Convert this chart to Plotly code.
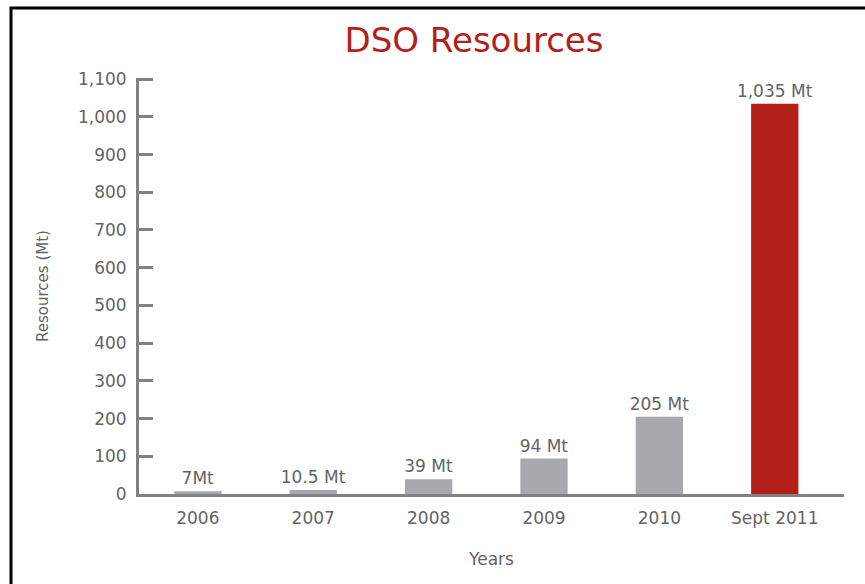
import plotly.graph_objects as go

categories = ["2006", "2007", "2008", "2009", "2010", "Sept 2011"]
resources = [7, 10.5, 39, 94, 205, 1035]
value_labels = ["7Mt", "10.5 Mt", "39 Mt", "94 Mt", "205 Mt", "1,035 Mt"]
bar_colors = ["#a7a9ac", "#a7a9ac", "#a7a9ac", "#a7a9ac", "#a7a9ac", "#b3201a"]
y_ticks = [0, 100, 200, 300, 400, 500, 600, 700, 800, 900, 1000, 1100]
y_ticktext = ["0", "100", "200", "300", "400", "500", "600", "700", "800", "900", "1,000", "1,100"]

FONT = "DejaVu Sans"
GRAY_TXT = "#636466"
AXIS = "#808285"

fig = go.Figure()
fig.add_trace(go.Bar(
    x=categories, y=resources,
    marker=dict(color=bar_colors, line=dict(width=0)),
    width=0.41,
    text=value_labels, textposition="outside", cliponaxis=False,
    constraintext="none",
    textfont=dict(family=FONT, size=17, color=GRAY_TXT),
    hoverinfo="skip",
))

fig.update_layout(
    width=865, height=584,
    margin=dict(l=139, r=21, t=78, b=90),
    paper_bgcolor="white", plot_bgcolor="white",
    showlegend=False,
    title=dict(text="DSO Resources", x=0.548, xanchor="center", y=0.932, yanchor="middle",
               font=dict(family=FONT, size=34, color="#b3201a")),
    xaxis=dict(
        type="category", range=[-0.51, 5.6],
        showline=True, linewidth=3, linecolor=AXIS,
        ticks="", showgrid=False, zeroline=False,
        tickfont=dict(family=FONT, size=17, color=GRAY_TXT),
        ticklabelstandoff=7,
        title=dict(text="Years", font=dict(family=FONT, size=17, color=GRAY_TXT), standoff=26),
    ),
    yaxis=dict(
        range=[0, 1103],
        tickvals=y_ticks, ticktext=y_ticktext,
        showline=True, linewidth=3, linecolor=AXIS,
        ticks="inside", ticklen=14, tickwidth=3, tickcolor=AXIS,
        showgrid=False, zeroline=False,
        tickfont=dict(family=FONT, size=17, color=GRAY_TXT),
        ticklabelstandoff=6,
        title=dict(text="Resources (Mt)", font=dict(family=FONT, size=15, color=GRAY_TXT), standoff=26),
    ),
    shapes=[
        dict(type="rect", xref="paper", yref="paper",
             x0=(11 - 139) / 705, x1=2.0, y0=-1.0, y1=(494 - 8) / 416,
             line=dict(color="black", width=3), fillcolor="rgba(0,0,0,0)", layer="below"),
    ],
)

fig.write_html("out.html")
